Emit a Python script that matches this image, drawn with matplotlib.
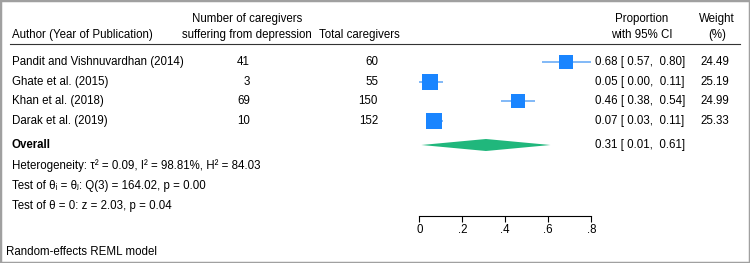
import numpy as np
import matplotlib.pyplot as plt
from matplotlib.patches import Polygon, Rectangle
from matplotlib.transforms import blended_transform_factory

# --- data ---
authors = ["Pandit and Vishnuvardhan (2014)", "Ghate et al. (2015)",
           "Khan et al. (2018)", "Darak et al. (2019)"]
n_depressed = [41, 3, 69, 10]
n_total = [60, 55, 150, 152]
prop = [0.68, 0.05, 0.46, 0.07]
ci_low = [0.57, 0.00, 0.38, 0.03]
ci_high = [0.80, 0.11, 0.54, 0.11]
weight = [24.49, 25.19, 24.99, 25.33]
overall = (0.31, 0.01, 0.61)
stats_lines = [
    "Heterogeneity: \u03c4\u00b2 = 0.09, I\u00b2 = 98.81%, H\u00b2 = 84.03",
    "Test of \u03b8\u1d62 = \u03b8\u2c7c: Q(3) = 164.02, p = 0.00",
    "Test of \u03b8 = 0: z = 2.03, p = 0.04",
]
xticks = [0, 0.2, 0.4, 0.6, 0.8]
xticklabels = ["0", ".2", ".4", ".6", ".8"]

plt.rcParams['font.family'] = ['Liberation Sans', 'DejaVu Sans']
FS = 8.3
W, H = 750, 263
BLUE = "#1a85ff"
CI_BLUE = "#5fa6f5"
GREEN = "#20b77c"

fig = plt.figure(figsize=(W / 100, H / 100), dpi=100)

# axes placed so that 0 -> x=419px and 0.8 -> x=591px
x0_px, x1_px = 419.3, 591.3
ax = fig.add_axes([x0_px / W, 0, (x1_px - x0_px) / W, 1])
ax.set_xlim(0, 0.8)
ax.set_ylim(H, 0)   # y in pixels from the top
ax.patch.set_visible(False)
for s in ["top", "left", "right"]:
    ax.spines[s].set_visible(False)
ax.spines["bottom"].set_position(("data", 216))
ax.spines["bottom"].set_bounds(0, 0.8)
ax.spines["bottom"].set_linewidth(0.8)
ax.set_yticks([])
ax.set_xticks(xticks)
ax.set_xticklabels(xticklabels, fontsize=FS)
ax.tick_params(axis="x", length=4, width=0.8, pad=2)

row_y = 62 + np.arange(len(authors)) * 19.7
y_overall = 145

# CI lines and squares
for i in range(len(authors)):
    ax.plot([ci_low[i], ci_high[i]], [row_y[i], row_y[i]], color=CI_BLUE,
            lw=1.1, solid_capstyle="butt", zorder=2)
    ms = 10.8 * np.sqrt(weight[i] / 25.0)
    ax.plot(prop[i], row_y[i], marker="s", ms=ms, color=BLUE, mew=0, zorder=3)

# overall diamond
est, lo, hi = overall
dh = 6
ax.add_patch(Polygon([[lo, y_overall], [est, y_overall - dh], [hi, y_overall],
                      [est, y_overall + dh]], closed=True, fc=GREEN, ec="none"))

# text columns: x in figure pixels, y in data pixels
tr = blended_transform_factory(fig.transFigure, ax.transData)

def put(xpx, y, s, ha="left", **kw):
    ax.text(xpx / W, y, s, transform=tr, ha=ha, va="center", fontsize=FS,
            clip_on=False, **kw)

# header
put(12, 35, "Author (Year of Publication)")
put(247, 19, "Number of caregivers", ha="center")
put(247, 35, "suffering from depression", ha="center")
put(319, 35, "Total caregivers")
put(642, 19, "Proportion", ha="center")
put(642, 35, "with 95% CI", ha="center")
put(717, 19, "Weight", ha="center")
put(717, 35, "(%)", ha="center")
fig.add_artist(plt.Line2D([10 / W, 740 / W], [1 - 44 / H, 1 - 44 / H],
                          color="#333333", lw=0.8))

for i in range(len(authors)):
    put(12, row_y[i], authors[i])
    put(250, row_y[i], str(n_depressed[i]), ha="right")
    put(378, row_y[i], str(n_total[i]), ha="right")
    put(595, row_y[i], f"{prop[i]:.2f} [{ci_low[i]:5.2f}, {ci_high[i]:5.2f}]")
    put(729, row_y[i], f"{weight[i]:.2f}", ha="right")

put(12, y_overall, "Overall", fontweight="bold")
put(595, y_overall, f"{est:.2f} [{lo:5.2f}, {hi:5.2f}]")
for k, line in enumerate(stats_lines):
    put(12, 166 + 20 * k, line)
put(6, 252, "Random-effects REML model")

# grey frame
fig.add_artist(Rectangle((0, 0), 1, 1, transform=fig.transFigure, fill=False,
                         ec="#a0a0a0", lw=2.5))

fig.savefig("out.png", dpi=100)
